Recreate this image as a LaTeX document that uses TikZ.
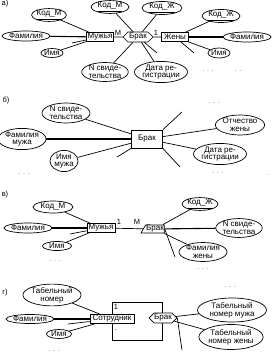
\documentclass[tikz,border=0pt]{standalone}
\usepackage{fontspec}
\setmainfont{Liberation Sans}
\usetikzlibrary{shapes.geometric, shapes.symbols}
\tikzset{
  ent/.style        = {draw, rectangle, fill=white, inner sep=0pt, line width=0.8pt,
                       minimum width=#1, minimum height=9},
  hexrel/.style     = {draw, signal, signal to=west and east, fill=white, inner sep=0pt,
                       line width=0.7pt, minimum width=#1, minimum height=10},
  attr/.style 2 args = {draw, ellipse, fill=white, inner sep=0pt, align=center,
                       line width=0.7pt, minimum width=#1, minimum height=#2},
  link/.style       = {line width=0.7pt},
  boldlink/.style   = {line width=1.1pt},
  lbl/.style        = {font=\fontsize{7.5}{7.5}\selectfont},
  dots/.style       = {font=\fontsize{7}{7}\selectfont, black!60},
}

\begin{document}
\begin{tikzpicture}[x=1pt, y=-1pt, font=\fontsize{8}{7.8}\selectfont]
  \useasboundingbox (0,0) rectangle (271,359);

  % --- а) ---
  \node[lbl] (capA) at (5,4) {а)};
  \node[ent=27] (muzhA) at (100,37) {Мужья};
  \node[hexrel=30] (brakA) at (138,37) {Брак};
  \node[ent=27] (zhenA) at (175,37) {Жены};
  \node[attr={33}{12}] (kodmA) at (49,15) {\underline{Код\_М}};
  \node[attr={46}{10}] (famA) at (26,36) {Фамилия};
  \node[attr={22}{9}] (imyaA) at (52,53) {Имя};
  \node[attr={38}{12}] (kodmB) at (110,7) {\underline{Код\_М}};
  \node[attr={40}{13}] (kodzhB) at (162,8) {\underline{Код\_Ж}};
  \node[attr={42}{19}] (nsvA) at (105,72) {N свиде-\\тельства};
  \node[attr={42}{19}] (dataA) at (161,72) {Дата ре-\\гистрации};
  \node[attr={38}{13}] (kodzhA) at (221,16) {\underline{Код\_Ж}};
  \node[attr={44}{10}] (famZhA) at (247,37) {Фамилия};
  \node[attr={22}{10}] (imyaZhA) at (219,53) {Имя};
  \coordinate (stubA1) at (72,43);
  \coordinate (stubA2) at (157,53);
  \coordinate (stubA3) at (194,53);
  \draw[link] (muzhA) -- (kodmA);
  \draw[boldlink] (muzhA) -- (famA);
  \draw[link] (muzhA) -- (imyaA);
  \draw[link] (muzhA) -- (stubA1);
  \draw[link] (muzhA) -- (brakA) -- (zhenA);
  \draw[link] (brakA) -- (kodmB);
  \draw[link] (brakA) -- (kodzhB);
  \draw[link] (brakA) -- (nsvA);
  \draw[link] (brakA) -- (dataA);
  \draw[link] (brakA) -- (stubA2);
  \draw[link] (zhenA) -- (kodzhA);
  \draw[boldlink] (zhenA) -- (famZhA);
  \draw[link] (zhenA) -- (imyaZhA);
  \draw[link] (zhenA) -- (stubA3);
  \node[lbl] (mA) at (118,33) {М};
  \node[lbl] (oneA) at (156,33) {1};
  \node[dots] (dotsA1) at (208,71) {. . .};
  \node[dots] (dotsA2) at (238,71) {. .};

  % --- б) ---
  \node[lbl] (capB) at (6,101) {б)};
  \node[draw, fill=white, line width=0.8pt, minimum width=31, minimum height=18, inner sep=0pt]
    (brakB) at (147,139) {Брак};
  \node[attr={48}{20}] (nsvB) at (66,113) {N свиде-\\тельства};
  \node[attr={45}{16}] (famB) at (22,139) {Фамилия\\мужа};
  \node[attr={28}{18}] (imyaB) at (64,161) {Имя\\мужа};
  \node[attr={44}{20}] (otchB) at (240,125) {Отчество\\жены};
  \node[attr={50}{18}] (dataB) at (220,154) {Дата ре-\\гистрации};
  \coordinate (stubB1) at (117,157);
  \coordinate (stubB2) at (182,112);
  \coordinate (stubB3) at (180,167);
  \draw[link] (brakB) -- (nsvB);
  \draw[boldlink] (brakB) -- (famB);
  \draw[link] (brakB) -- (imyaB);
  \draw[link] (brakB.south west) -- (stubB1);
  \draw[link] (brakB.north east) -- (stubB2);
  \draw[link] (brakB) -- (otchB);
  \draw[link] (brakB) -- (dataB);
  \draw[link] (brakB.south east) -- (stubB3);
  \node[dots] (dotsB1) at (214,103) {. . .};
  \node[dots] (dotsB2) at (24,174) {. . .};
  \node[dots] (dotsB3) at (218,173) {. . .};
  \node[dots] (dotsB4) at (268,175) {.};

  % --- в) ---
  \node[lbl] (capC) at (5,195) {в)};
  \node[ent=28] (muzhC) at (101,228) {Мужья};
  \node[draw, trapezium, trapezium left angle=60, trapezium right angle=90, fill=white,
        inner sep=0.5pt, line width=0.7pt, minimum height=8] (brakC) at (155,229) {Брак};
  \node[attr={40}{12}] (kodmC) at (53,207) {Код\_М};
  \node[attr={44}{10}] (famC) at (28,228) {Фамилия};
  \node[attr={29}{9}] (imyaC) at (57,246) {Имя};
  \node[attr={35}{12}] (kodzhC) at (200,204) {\underline{Код\_Ж}};
  \node[attr={42}{17}] (nsvC) at (239,228) {N свиде-\\тельства};
  \node[attr={38}{17}] (famZhC) at (203,252) {Фамилия\\жены};
  \coordinate (stubC1) at (70,234);
  \coordinate (stubC2) at (175,257);
  \draw[link] (muzhC) -- (kodmC);
  \draw[boldlink] (muzhC) -- (famC);
  \draw[link] (muzhC) -- (imyaC);
  \draw[link] (muzhC) -- (stubC1);
  \draw[link] (muzhC) -- (brakC);
  \draw[link] (brakC) -- (kodzhC);
  \draw[boldlink] (brakC) -- (nsvC);
  \draw[link] (brakC) -- (famZhC);
  \draw[link] (brakC.east) -- (stubC2);
  \node[lbl] (oneC) at (119,222) {1};
  \node[lbl] (mC) at (137,222) {М};
  \node[dots] (dotsC1) at (55,261) {. . .};
  \node[dots] (dotsC2) at (203,269) {. . .};

  % --- г) ---
  \node[lbl] (capD) at (5,293) {г)};
  \draw[link] (112,302) rectangle (162,340);
  \node[ent=44] (sotrD) at (112,319) {Сотрудник};
  \node[hexrel=26] (brakD) at (163,318) {Брак};
  \node[attr={53}{20}] (tabD) at (52,295) {Табельный\\номер};
  \node[attr={44}{9}] (famD) at (30,319) {Фамилия};
  \node[attr={25}{9}] (imyaD) at (59,334) {Имя};
  \node[attr={69}{24}] (tabMuzhD) at (232,310) {Табельный\\номер мужа};
  \node[attr={62}{25}] (tabZhD) at (231,337) {Табельный\\номер жены};
  \coordinate (stubD1) at (68,324);
  \coordinate (stubD2) at (182,350);
  \draw[link] (sotrD) -- (tabD);
  \draw[boldlink] (sotrD) -- (famD);
  \draw[link] (sotrD) -- (imyaD);
  \draw[link] (sotrD) -- (stubD1);
  \draw[link] (brakD) -- (tabMuzhD);
  \draw[link] (brakD) -- (tabZhD);
  \draw[link] (brakD.east) -- (stubD2);
  \node[lbl] (oneD) at (116,307) {1};
  \node[lbl] (mD) at (116,330) {.};
  \node[dots] (dotsD1) at (230,287) {. . .};
  \node[dots] (dotsD2) at (54,351) {. . .};
  \node[dots] (dotsD3) at (234,350) {. . .};
\end{tikzpicture}
\end{document}
